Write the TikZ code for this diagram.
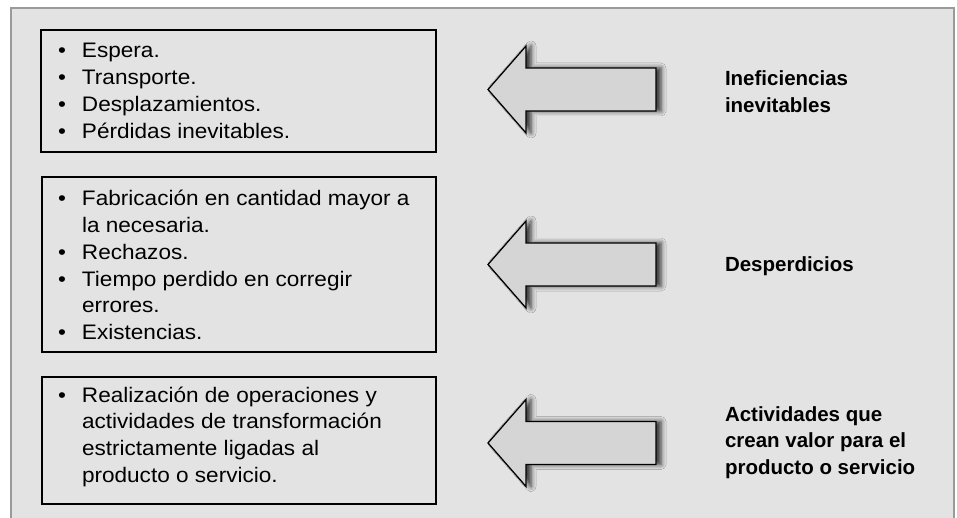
\documentclass[tikz,border=0pt]{standalone}
\usepackage{fontspec}
\setmainfont{Liberation Sans}
\newfontfamily\bodyfont[FakeStretch=1.075]{Liberation Sans}
\usetikzlibrary{shadows.blur}
\definecolor{bgcol}{HTML}{E3E3E3}
\definecolor{framecol}{HTML}{9A9A9A}
\definecolor{arrfill}{HTML}{D5D5D5}
\definecolor{ink}{HTML}{000000}
\newcommand{\bodytext}{\bodyfont\fontsize{21}{26.7}\selectfont}
\newcommand{\labeltext}{\fontsize{20.5}{26.7}\selectfont\bfseries}
\newcommand{\itm}{\makebox[24pt][l]{\textbullet}}
\tikzset{
  listbox/.style={draw=ink, line width=2pt, inner sep=0pt, outer sep=0pt, anchor=north west},
  listtext/.style={anchor=base west, inner sep=0pt, outer sep=0pt, text=ink, font=\bodytext},
  sidelabel/.style={anchor=base west, inner sep=0pt, outer sep=0pt, text=ink, font=\labeltext},
  bigarrowstyle/.style={draw=ink, line width=1.3pt, fill=arrfill, line join=miter,
    blur shadow={shadow xshift=5pt, shadow yshift=0pt, shadow blur radius=5pt, shadow opacity=80}},
  bigarr/.pic={\path[bigarrowstyle] (0,0) -- (38,-43.5) -- (38,-21.5) -- (168,-21.5) -- (168,21.5) -- (38,21.5) -- (38,43.5) -- cycle;}
}
\begin{document}
\begin{tikzpicture}[x=1pt,y=-1pt]
\useasboundingbox (0,0) rectangle (957,518);
\fill[bgcol] (11,8) rectangle (954,518);
\draw[framecol, line width=2pt] (11,518) -- (11,8) -- (954,8) -- (954,518);

% boxes
\node[listbox, minimum width=395pt, minimum height=122pt] (box1) at (41,30) {};
\node[listbox, minimum width=394pt, minimum height=175pt] (box2) at (42,177) {};
\node[listbox, minimum width=394pt, minimum height=127pt] (box3) at (42,377) {};

% list texts
\node[listtext] (t1) at (58,58) {\begin{tabular}[t]{@{}l@{}l@{}}
\itm & Espera.\\
\itm & Transporte.\\
\itm & Desplazamientos.\\
\itm & Pérdidas inevitables.
\end{tabular}};
\node[listtext] (t2) at (58,206) {\begin{tabular}[t]{@{}l@{}l@{}}
\itm & Fabricación en cantidad mayor a\\
 & la necesaria.\\
\itm & Rechazos.\\
\itm & Tiempo perdido en corregir\\
 & errores.\\
\itm & Existencias.
\end{tabular}};
\node[listtext] (t3) at (58,402) {\begin{tabular}[t]{@{}l@{}l@{}}
\itm & Realización de operaciones y\\
 & actividades de transformación\\
 & estrictamente ligadas al\\
 & producto o servicio.
\end{tabular}};

% arrows
\pic at (488,89.5) {bigarr};
\pic at (488,264.5) {bigarr};
\pic at (488,443) {bigarr};

% labels
\node[sidelabel] (l1) at (725,86) {\begin{tabular}[t]{@{}l@{}}Ineficiencias\\inevitables\end{tabular}};
\node[sidelabel] (l2) at (725,272) {Desperdicios};
\node[sidelabel] (l3) at (725,421) {\begin{tabular}[t]{@{}l@{}}Actividades que\\crean valor para el\\producto o servicio\end{tabular}};
\end{tikzpicture}
\end{document}
